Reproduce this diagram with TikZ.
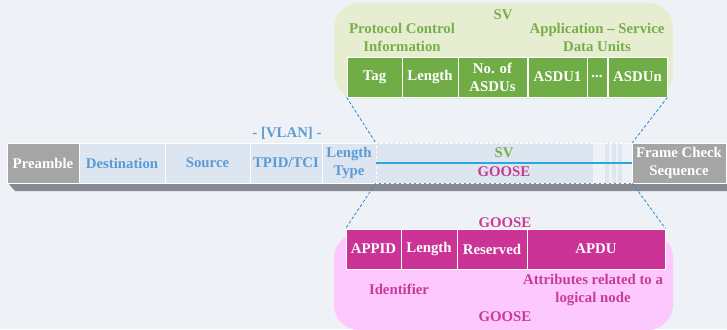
\documentclass[tikz,border=0pt]{standalone}
\usepackage{fontspec}
\setmainfont{Liberation Serif}
\usetikzlibrary{positioning}
\definecolor{bgc}{HTML}{EEF2F7}
\definecolor{svpanel}{HTML}{E6EDD0}
\definecolor{svbox}{HTML}{70AD47}
\definecolor{svtext}{HTML}{77B04A}
\definecolor{gpanel}{HTML}{FDC8FD}
\definecolor{gbox}{HTML}{CB3496}
\definecolor{gtext}{HTML}{C93A99}
\definecolor{ethbox}{HTML}{DDE5F1}
\definecolor{ethtext}{HTML}{5B9BD5}
\definecolor{greybox}{HTML}{A5A5A5}
\definecolor{shadowc}{HTML}{878A93}
\definecolor{splitline}{HTML}{29A8E0}
\definecolor{zoomline}{HTML}{2E86D0}
\tikzset{
  txt/.style={font=\bfseries\fontsize{14.8}{18}\selectfont, align=center, inner sep=0pt},
  field/.style={txt, draw=white, line width=0.8pt, minimum height=40pt, inner sep=0pt},
  svfield/.style={field, fill=svbox, text=white},
  gfield/.style={field, fill=gbox, text=white},
  ethfield/.style={field, fill=ethbox, text=ethtext},
  greyfield/.style={field, fill=greybox, text=white},
  zoomdash/.style={draw=zoomline, line width=0.8pt, dash pattern=on 3pt off 2pt},
}
\begin{document}
\begin{tikzpicture}[x=1pt,y=-1pt]
\fill[bgc] (0,0) rectangle (727,329);
\useasboundingbox (0,0) rectangle (727,329);

% rounded backdrops of the two protocol breakdowns
\fill[svpanel, rounded corners=25pt] (334,3) rectangle (673,99);
\fill[gpanel, rounded corners=25pt] (334,233) rectangle (673,330);

% SV structure
\node[txt, text=svtext] (svtitle) at (503,15) {SV};
\node[txt, text=svtext] (pci) at (402,37) {Protocol Control\\Information};
\node[txt, text=svtext] (asduinfo) at (597,37) {Application -- Service\\Data Units};
\node[svfield, minimum width=55pt] (tag) at (374.5,77) {Tag};
\node[svfield, minimum width=56pt] (svlen) at (430,77) {Length};
\node[svfield, minimum width=69pt] (nasdu) at (492.5,77) {No. of\\ASDUs};
\node[svfield, minimum width=59pt] (asdu1) at (557.5,77) {ASDU1};
\node[svfield, minimum width=20pt] (dots) at (597,77) {...};
\node[svfield, minimum width=59pt] (asdun) at (637.5,77) {ASDUn};

% Ethernet frame shadow
\fill[shadowc] (8,183) -- (727,183) -- (727,191) -- (15,191) -- cycle;

% Ethernet frame
\node[txt, text=ethtext] (vlan) at (287,133) {- [VLAN] -};
\node[greyfield, minimum width=72pt] (pre) at (43,163) {Preamble};
\node[ethfield, minimum width=86pt] (dst) at (122,163) {Destination};
\node[ethfield, minimum width=85pt] (src) at (207.5,163) {Source};
\node[ethfield, minimum width=72pt] (tpid) at (286,163) {TPID/TCI};
\node[ethfield, minimum width=54pt] (lt) at (349,163) {Length\\Type};
\fill[ethbox] (376,143) rectangle (593,183);
\fill[ethbox] (605,143) rectangle (609,183);
\fill[ethbox] (612,143) rectangle (616,183);
\fill[ethbox] (618,143) rectangle (622,183);
\node[draw=white, line width=0.8pt, dash pattern=on 3pt off 2pt, minimum width=256pt, minimum height=40pt, inner sep=0pt] (payload) at (504,163) {};
\draw[splitline, line width=1.2pt] (payload.west) -- (payload.east);
\node[txt, text=svtext] (svmark) at (504,153) {SV};
\node[txt, text=gtext] (goosemark) at (504,172) {GOOSE};
\node[greyfield, minimum width=94pt] (fcs) at (679,163) {Frame Check\\Sequence};

% GOOSE structure
\node[txt, text=gtext] (gtitle) at (505,223) {GOOSE};
\node[gfield, minimum width=55pt] (appid) at (373.5,249) {APPID};
\node[gfield, minimum width=56pt] (glen) at (429,249) {Length};
\node[gfield, minimum width=70pt] (resv) at (492,249) {Reserved};
\node[gfield, minimum width=138pt] (apdu) at (596,249) {APDU};
\node[txt, text=gtext] (ident) at (399,289) {Identifier};
\node[txt, text=gtext] (attr) at (593,290) {Attributes related to a\\logical node};
\node[txt, text=gtext] (gbottom) at (505,317) {GOOSE};

% zoom guides between the frame payload and the breakdowns
\draw[zoomdash] (tag.south west) -- (payload.north west);
\draw[zoomdash] (asdun.south east) -- (payload.north east);
\draw[zoomdash] (payload.south west) -- (appid.north west);
\draw[zoomdash] (payload.south east) -- (apdu.north east);
\end{tikzpicture}
\end{document}
